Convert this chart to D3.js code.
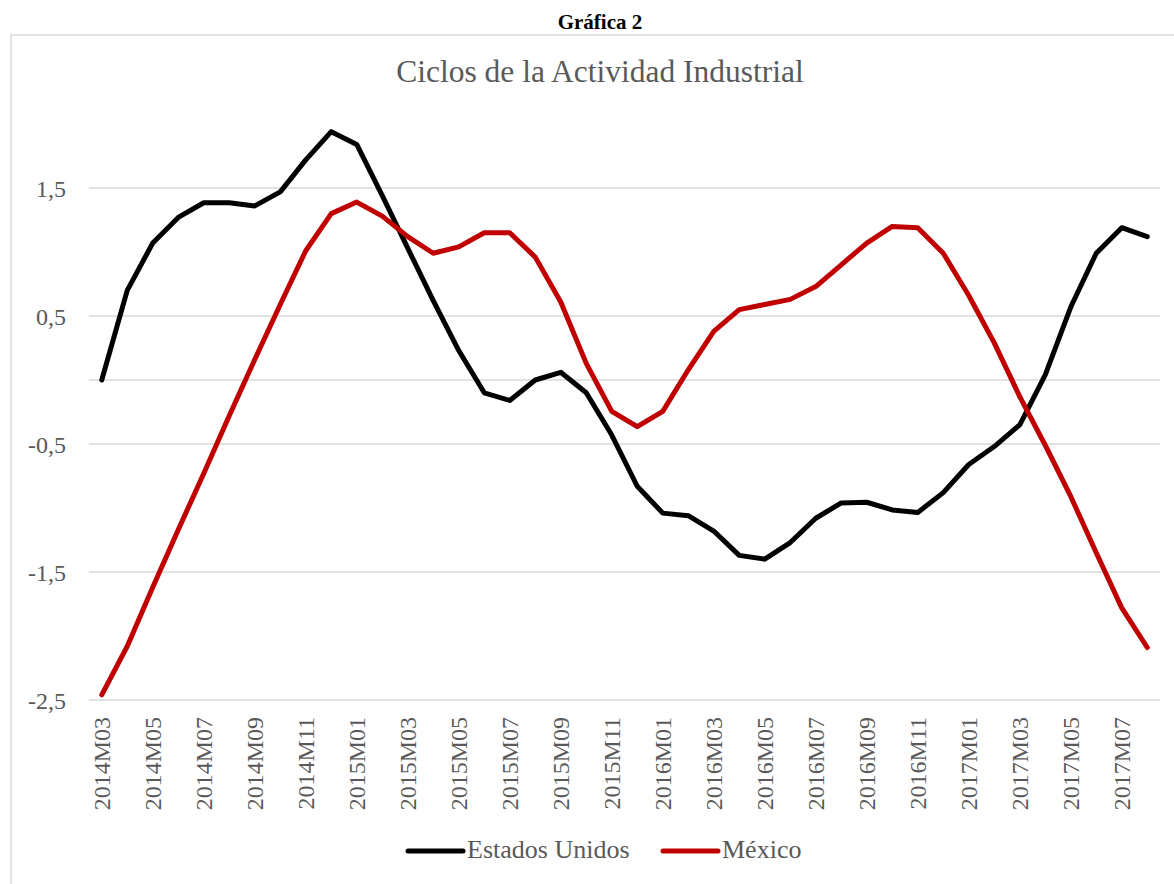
<!DOCTYPE html>
<html>
<head>
<meta charset="utf-8">
<script src="https://cdn.jsdelivr.net/npm/d3@7"></script>
<style>
  html, body { margin: 0; padding: 0; background: #fff; }
  svg { display: block; }
</style>
</head>
<body>
<svg id="chart" width="1174" height="884"></svg>
<script>
const categories = ["2014M03","2014M04","2014M05","2014M06","2014M07","2014M08","2014M09","2014M10","2014M11","2014M12",
  "2015M01","2015M02","2015M03","2015M04","2015M05","2015M06","2015M07","2015M08","2015M09","2015M10","2015M11","2015M12",
  "2016M01","2016M02","2016M03","2016M04","2016M05","2016M06","2016M07","2016M08","2016M09","2016M10","2016M11","2016M12",
  "2017M01","2017M02","2017M03","2017M04","2017M05","2017M06","2017M07","2017M08"];
const estadosUnidos = [0.00, 0.70, 1.07, 1.27, 1.385, 1.385, 1.36, 1.47, 1.72, 1.94,
  1.84, 1.44, 1.03, 0.62, 0.23, -0.10, -0.16, 0.00, 0.06, -0.10, -0.43, -0.83,
  -1.04, -1.06, -1.18, -1.37, -1.40, -1.27, -1.08, -0.96, -0.955, -1.015, -1.035, -0.88,
  -0.66, -0.52, -0.35, 0.04, 0.57, 0.99, 1.19, 1.12];
const mexico = [-2.46, -2.08, -1.62, -1.17, -0.73, -0.28, 0.16, 0.59, 1.01, 1.30,
  1.39, 1.28, 1.12, 0.99, 1.04, 1.15, 1.15, 0.96, 0.61, 0.13, -0.245, -0.365,
  -0.245, 0.08, 0.38, 0.55, 0.59, 0.63, 0.73, 0.90, 1.07, 1.20, 1.19, 0.99,
  0.66, 0.29, -0.13, -0.51, -0.91, -1.35, -1.78, -2.09];
const yTicks = [1.5, 0.5, -0.5, -1.5, -2.5];
const yTickLabels = ["1,5", "0,5", "-0,5", "-1,5", "-2,5"];
const xTickLabels = categories.filter((d, i) => i % 2 === 0);
const seriesNames = ["Estados Unidos", "México"];
const seriesColors = ["#000000", "#C00000"];
const chartLabel = "Gráfica 2";
const chartTitle = "Ciclos de la Actividad Industrial";

const svg = d3.select("#chart");
const FONT = "'Palatino Linotype','Book Antiqua',Palatino,'Liberation Serif',serif";
const TEXT_GRAY = "#595959";
const GRID = "#d9d9d9";

// outer frame
svg.append("rect").attr("x", 11).attr("y", 35).attr("width", 1200).attr("height", 900)
  .attr("fill", "none").attr("stroke", GRID).attr("stroke-width", 1.5);

svg.append("text").attr("x", 600).attr("y", 29).attr("text-anchor", "middle")
  .attr("font-family", FONT).attr("font-weight", "bold").attr("font-size", 21)
  .attr("fill", "#000").text(chartLabel);

svg.append("text").attr("x", 600).attr("y", 82).attr("text-anchor", "middle")
  .attr("font-family", FONT).attr("font-size", 31.5)
  .attr("fill", TEXT_GRAY).text(chartTitle);

const plot = { left: 89, right: 1160 };
const x = d3.scaleBand().domain(categories).range([plot.left, plot.right]).padding(0);
const y = d3.scaleLinear().domain([-2.5, 1.5]).range([700, 188]);
const cx = d => x(d) + x.bandwidth() / 2;

// gridlines + zero axis line
const gridVals = yTicks.concat([0]);
svg.append("g").selectAll("line").data(gridVals).join("line")
  .attr("x1", plot.left).attr("x2", plot.right)
  .attr("y1", d => y(d)).attr("y2", d => y(d))
  .attr("stroke", GRID).attr("stroke-width", 1.5);

// y axis labels
const yAxis = d3.axisLeft(y).tickValues(yTicks).tickSize(0).tickPadding(0)
  .tickFormat((d, i) => yTickLabels[i]);
const gy = svg.append("g").attr("transform", "translate(66,0)").call(yAxis);
gy.select(".domain").remove();
gy.selectAll("text").attr("font-family", FONT).attr("font-size", 24).attr("fill", TEXT_GRAY)
  .attr("dy", "0.34em");

// x axis labels
const xAxis = d3.axisBottom(x).tickValues(xTickLabels).tickSize(0).tickPadding(0);
const gx = svg.append("g").attr("transform", "translate(0,717)").call(xAxis);
gx.select(".domain").remove();
gx.selectAll("text").attr("font-family", FONT).attr("font-size", 24).attr("fill", TEXT_GRAY)
  .attr("text-anchor", "end").attr("transform", "rotate(-90)")
  .attr("x", 0).attr("y", 0).attr("dy", "0.34em");

// lines
const line = d3.line().x((d, i) => cx(categories[i])).y(d => y(d));
[estadosUnidos, mexico].forEach((s, k) => {
  svg.append("path").datum(s).attr("d", line)
    .attr("fill", "none").attr("stroke", seriesColors[k]).attr("stroke-width", 5)
    .attr("stroke-linejoin", "round").attr("stroke-linecap", "round");
});

// legend
const legendItems = [{ x: 408, name: seriesNames[0], color: seriesColors[0] },
                     { x: 663, name: seriesNames[1], color: seriesColors[1] }];
const lg = svg.append("g");
legendItems.forEach(it => {
  lg.append("line").attr("x1", it.x).attr("x2", it.x + 55).attr("y1", 851).attr("y2", 851)
    .attr("stroke", it.color).attr("stroke-width", 5).attr("stroke-linecap", "round");
  lg.append("text").attr("x", it.x + 59).attr("y", 858).attr("font-family", FONT)
    .attr("font-size", 26).attr("fill", TEXT_GRAY).text(it.name);
});
</script>
</body>
</html>
